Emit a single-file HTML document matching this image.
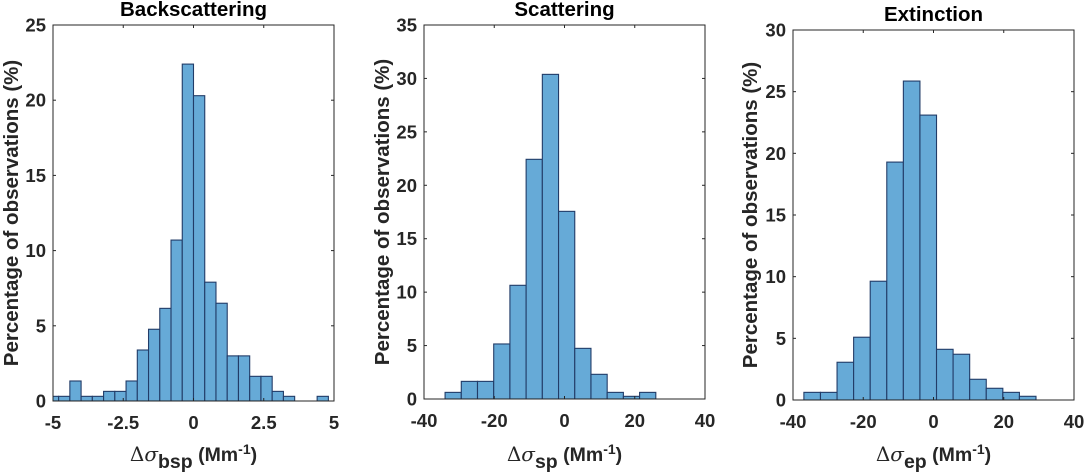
<!DOCTYPE html>
<html><head><meta charset="utf-8"><style>
html,body{margin:0;padding:0;background:#fff;}
svg{display:block;font-family:"Liberation Sans",Arial,sans-serif;}
.tick{font-size:18.5px;font-weight:bold;fill:#262626;}
.title{font-size:20.5px;font-weight:bold;fill:#000;}
.ylab{font-size:20.5px;font-weight:bold;fill:#262626;}
.xlab{font-size:19.5px;fill:#262626;}
</style></head><body>
<svg id="fig" width="1085" height="476" viewBox="0 0 1085 476" xmlns="http://www.w3.org/2000/svg"></svg>
<script>
// Backscattering
const bspEdgeStart = -5.2;
const bspBinWidth = 0.4;
const bspValues = [0.31,0.31,1.33,0.31,0.31,0.64,0.64,1.33,3.39,4.77,6.16,10.7,22.4,20.3,7.9,6.5,3.0,3.0,1.64,1.64,0.64,0.31,0,0,0.31];
const bspXTicks = [-5,-2.5,0,2.5,5];
const bspXTickLabels = ["-5","-2.5","0","2.5","5"];
const bspYTicks = [0,5,10,15,20,25];
// Scattering
const spEdgeStart = -34.0;
const spBinWidth = 4.615;
const spValues = [0.62,1.65,1.65,5.15,10.64,22.43,30.38,17.56,4.74,2.31,0.62,0.25,0.62];
const spXTicks = [-40,-20,0,20,40];
const spXTickLabels = ["-40","-20","0","20","40"];
const spYTicks = [0,5,10,15,20,25,30,35];
// Extinction
const epEdgeStart = -36.9;
const epBinWidth = 4.72;
const epValues = [0.62,0.62,3.06,5.09,9.63,19.29,25.86,23.10,4.11,3.71,1.68,0.95,0.62,0.30];
const epXTicks = [-40,-20,0,20,40];
const epXTickLabels = ["-40","-20","0","20","40"];
const epYTicks = [0,5,10,15,20,25,30];

const NS = "http://www.w3.org/2000/svg";
const fig = document.getElementById('fig');
function mk(tag, attrs, parent){const e=document.createElementNS(NS,tag);for(const k in attrs)e.setAttribute(k,attrs[k]);(parent||fig).appendChild(e);return e;}

function panel(cfg){
  const g = mk('g',{});
  
  
  const {L,R,T,B,xmin,xmax,ymax} = cfg;
  const sx = v => L + (v - xmin) / (xmax - xmin) * (R - L);
  const sy = v => B - v / ymax * (B - T);
  const clip = mk('clipPath',{id:'clip-'+cfg.key},g);
  mk('rect',{x:L,y:T,width:R-L,height:B-T},clip);
  const bars = mk('g',{'clip-path':'url(#clip-'+cfg.key+')'},g);
  cfg.values.forEach((v,i)=>{
    if(v<=0) return;
    const x0 = sx(cfg.start + i*cfg.width), x1 = sx(cfg.start + (i+1)*cfg.width);
    const r = mk('rect',{x:x0,y:sy(v),width:x1-x0,height:sy(0)-sy(v),fill:'#66aad7',stroke:'#223c68','stroke-width':1.1},bars);
    
    
  });
  const box = mk('rect',{x:L,y:T,width:R-L,height:B-T,fill:'none',stroke:'#262626','stroke-width':1},g);
  
  
  cfg.xticks.forEach((t,i)=>{
    const x = sx(t);
    mk('line',{x1:x,x2:x,y1:B,y2:B-3,stroke:'#262626'},g);
    mk('line',{x1:x,x2:x,y1:T,y2:T+3,stroke:'#262626'},g);
    const tx = mk('text',{x:x,y:cfg.tickY,'text-anchor':'middle',class:'tick'},g);
    tx.textContent = cfg.xlabels[i];
    
    
  });
  cfg.yticks.forEach(t=>{
    const y = sy(t);
    mk('line',{x1:L,x2:L+3,y1:y,y2:y,stroke:'#262626'},g);
    mk('line',{x1:R,x2:R-3,y1:y,y2:y,stroke:'#262626'},g);
    const tx = mk('text',{x:L-7,y:y+6.5,'text-anchor':'end',class:'tick'},g);
    tx.textContent = String(t);
    
    
  });
  const ti = mk('text',{x:(L+R)/2,y:cfg.titleY,'text-anchor':'middle',class:'title'},g);
  ti.textContent = cfg.title;
  
  
  const yl = mk('text',{x:0,y:0,'text-anchor':'middle',class:'ylab',transform:'translate('+(cfg.ylabX)+','+((T+B)/2)+') rotate(-90)'},g);
  yl.textContent = 'Percentage of observations (%)';
  
  
  const xl = mk('text',{x:(L+R)/2,y:461,'text-anchor':'middle',class:'xlab'},g);
  
  
  xl.innerHTML = '<tspan style="font-family:\'DejaVu Serif\',serif;font-size:20px">Δ</tspan><tspan style="font-family:\'DejaVu Serif\',serif;font-style:italic;font-size:20px">σ</tspan><tspan dy="7" font-weight="bold">'+cfg.sub+'</tspan><tspan dy="-7" font-weight="bold"> (Mm</tspan><tspan dy="-7" font-size="14" font-weight="bold">-1</tspan><tspan dy="7" font-weight="bold">)</tspan>';
}

panel({key:'backscattering',title:'Backscattering',L:53,R:334,T:25,B:401,xmin:-5,xmax:5,ymax:25,
  start:bspEdgeStart,width:bspBinWidth,values:bspValues,xticks:bspXTicks,xlabels:bspXTickLabels,yticks:bspYTicks,
  tickY:429,titleY:16,ylabX:18,sub:'bsp'});
panel({key:'scattering',title:'Scattering',L:424,R:705,T:25,B:399,xmin:-40,xmax:40,ymax:35,
  start:spEdgeStart,width:spBinWidth,values:spValues,xticks:spXTicks,xlabels:spXTickLabels,yticks:spYTicks,
  tickY:427,titleY:16,ylabX:389,sub:'sp'});
panel({key:'extinction',title:'Extinction',L:793,R:1074,T:30,B:400,xmin:-40,xmax:40,ymax:30,
  start:epEdgeStart,width:epBinWidth,values:epValues,xticks:epXTicks,xlabels:epXTickLabels,yticks:epYTicks,
  tickY:428,titleY:21,ylabX:757,sub:'ep'});
</script>
</body></html>
